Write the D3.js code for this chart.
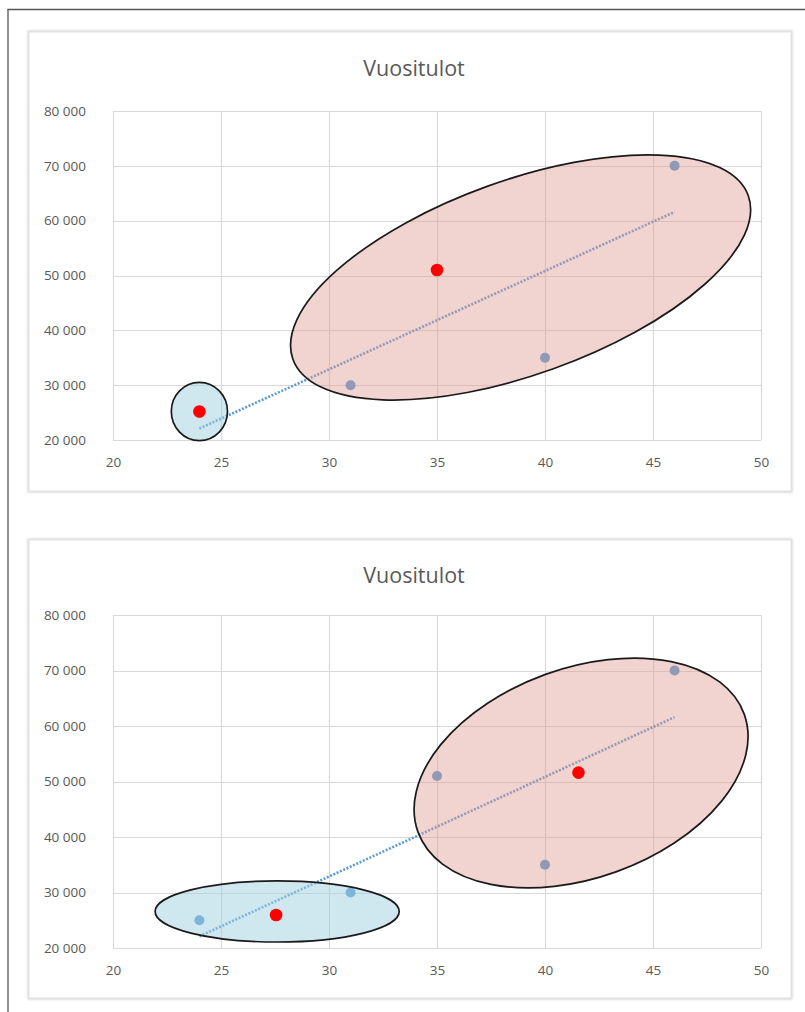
<!DOCTYPE html>
<html>
<head>
<meta charset="utf-8">
<script src="https://cdn.jsdelivr.net/npm/d3@7/dist/d3.min.js"></script>
<style>
  html, body { margin: 0; padding: 0; background: #fff; }
  svg { display: block; }
</style>
</head>
<body>
<script>
// ---- data ----
const title = "Vuositulot";
const xTicks = [20, 25, 30, 35, 40, 45, 50];
const yTicks = [20000, 30000, 40000, 50000, 60000, 70000, 80000];
const points = [[24, 25000], [31, 30000], [35, 51000], [40, 35000], [46, 70000]];
const trend = [[24, 22100], [46, 61600]];
const centroids1 = [[24, 25200], [35, 51000]];
const centroids2 = [[27.55, 25950], [41.55, 51600]];
// clusters: center (x,y), semi-axes rx (x units), ry (y units), tilt in degrees
const clusters1 = [
  { cx: 24, cy: 25200, rx: 1.3, ry: 5300, tilt: 0, kind: "blue" },
  { cx: 38.87, cy: 49640, rx: 11.2, ry: 17700, tilt: -19.75, kind: "pink" }
];
const clusters2 = [
  { cx: 27.6, cy: 26580, rx: 5.65, ry: 5500, tilt: 0, kind: "blue" },
  { cx: 41.67, cy: 51530, rx: 8.03, ry: 18900, tilt: -19.85, kind: "pink" }
];

const W = 805, H = 1012;
const svg = d3.select("body").append("svg").attr("width", W).attr("height", H);

const defs = svg.append("defs");
const f = defs.append("filter").attr("id", "shadow").attr("x", "-5%").attr("y", "-5%").attr("width", "110%").attr("height", "110%");
f.append("feGaussianBlur").attr("stdDeviation", 1.2);

// page frame lines
svg.append("line").attr("x1", 7.5).attr("x2", W).attr("y1", 9.5).attr("y2", 9.5)
  .attr("stroke", "#555").attr("stroke-width", 1.3);
svg.append("line").attr("x1", 8).attr("x2", 8).attr("y1", 9).attr("y2", H)
  .attr("stroke", "#555").attr("stroke-width", 1.3);

const fills = { blue: "rgba(160,208,222,0.5)", pink: "rgba(222,150,140,0.42)" };
const font = "'Open Sans', sans-serif";

function drawChart(box, plot, titleY, centroids, clusters) {
  const g = svg.append("g");
  // box with soft shadow
  g.append("rect").attr("x", box.x0).attr("y", box.y0)
    .attr("width", box.x1 - box.x0).attr("height", box.y1 - box.y0)
    .attr("fill", "none").attr("stroke", "#d4d4d4").attr("stroke-width", 3)
    .attr("filter", "url(#shadow)");
  g.append("rect").attr("x", box.x0).attr("y", box.y0)
    .attr("width", box.x1 - box.x0).attr("height", box.y1 - box.y0)
    .attr("fill", "#fff").attr("stroke", "#e3e3e3").attr("stroke-width", 1);

  const x = d3.scaleLinear().domain([20, 50]).range([plot.x0, plot.x1]);
  const y = d3.scaleLinear().domain([20000, 80000]).range([plot.y1, plot.y0]);

  g.append("text").attr("x", (box.x0 + box.x1) / 2 + 4).attr("y", titleY)
    .attr("text-anchor", "middle").attr("dominant-baseline", "middle")
    .attr("font-family", font).attr("font-size", 21.5)
    .attr("fill", "#595959").text(title);

  // gridlines
  g.append("g").selectAll("line").data(yTicks).join("line")
    .attr("x1", plot.x0).attr("x2", plot.x1)
    .attr("y1", d => Math.round(y(d)) + 0.5).attr("y2", d => Math.round(y(d)) + 0.5)
    .attr("stroke", "#d9d9d9").attr("stroke-width", 1.2);
  g.append("g").selectAll("line").data(xTicks).join("line")
    .attr("y1", plot.y0).attr("y2", plot.y1)
    .attr("x1", d => Math.round(x(d)) + 0.5).attr("x2", d => Math.round(x(d)) + 0.5)
    .attr("stroke", "#d9d9d9").attr("stroke-width", 1.2);

  // axes labels via d3 axes
  const fmt = d => d3.format(",")(d).replace(/,/g, "\u00a0");
  const ya = g.append("g").attr("transform", `translate(${plot.x0 - 10},0)`)
    .call(d3.axisLeft(y).tickValues(yTicks).tickFormat(fmt).tickSize(0).tickPadding(17));
  ya.select(".domain").remove();
  ya.selectAll("text").attr("font-family", font).attr("font-size", 13.5).attr("fill", "#595959");
  const xa = g.append("g").attr("transform", `translate(0,${plot.y1})`)
    .call(d3.axisBottom(x).tickValues(xTicks).tickSize(0).tickPadding(17));
  xa.select(".domain").remove();
  xa.selectAll("text").attr("font-family", font).attr("font-size", 13.5).attr("fill", "#595959");

  // trend line
  g.append("path").datum(trend)
    .attr("d", d3.line().x(d => x(d[0])).y(d => y(d[1])))
    .attr("fill", "none").attr("stroke", "#5b9bd5").attr("stroke-width", 2.6)
    .attr("stroke-dasharray", "2,1.6");

  // data points
  g.append("g").selectAll("circle").data(points).join("circle")
    .attr("cx", d => x(d[0])).attr("cy", d => y(d[1])).attr("r", 5)
    .attr("fill", "#5b9bd5");

  // cluster ellipses
  g.append("g").selectAll("ellipse").data(clusters).join("ellipse")
    .attr("transform", d => `translate(${x(d.cx)},${y(d.cy)}) rotate(${d.tilt})`)
    .attr("rx", d => x(d.cx + d.rx) - x(d.cx))
    .attr("ry", d => y(d.cy) - y(d.cy + d.ry))
    .attr("fill", d => fills[d.kind])
    .attr("stroke", "#1a1a1a").attr("stroke-width", 1.7);

  // centroids
  g.append("g").selectAll("circle").data(centroids).join("circle")
    .attr("cx", d => x(d[0])).attr("cy", d => y(d[1])).attr("r", 6.3)
    .attr("fill", "#ff0000");
}

drawChart({ x0: 29, y0: 32, x1: 791, y1: 491 }, { x0: 113, x1: 761, y0: 111, y1: 440 }, 70, centroids1, clusters1);
drawChart({ x0: 29, y0: 540, x1: 791, y1: 998 }, { x0: 113, x1: 761, y0: 615, y1: 948 }, 577, centroids2, clusters2);
</script>
</body>
</html>
